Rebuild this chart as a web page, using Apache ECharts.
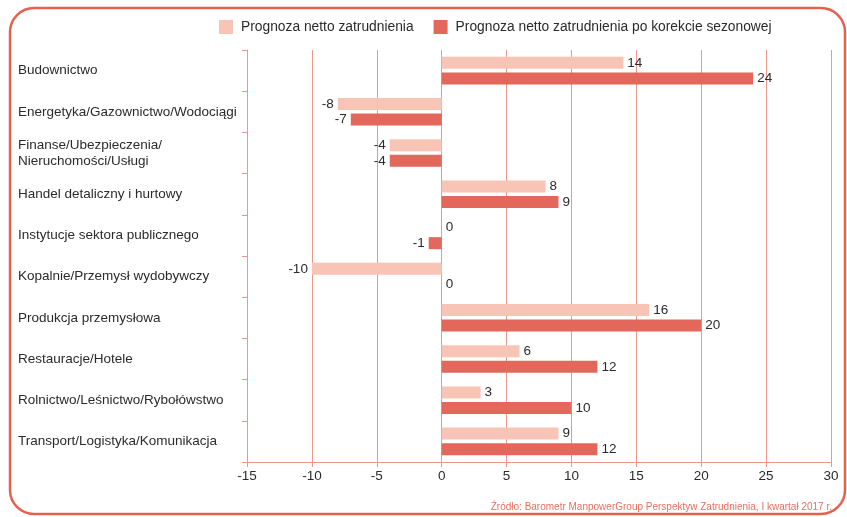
<!DOCTYPE html>
<html>
<head>
<meta charset="utf-8">
<script src="https://cdn.jsdelivr.net/npm/echarts@6/dist/echarts.min.js"></script>
<style>
html,body{margin:0;padding:0;background:#fff;}
#c{width:847px;height:517px;}
</style>
</head>
<body>
<div id="c"></div>
<script>
const categories = [
  'Budownictwo',
  'Energetyka/Gazownictwo/Wodociągi',
  'Finanse/Ubezpieczenia/\nNieruchomości/Usługi',
  'Handel detaliczny i hurtowy',
  'Instytucje sektora publicznego',
  'Kopalnie/Przemysł wydobywczy',
  'Produkcja przemysłowa',
  'Restauracje/Hotele',
  'Rolnictwo/Leśnictwo/Rybołówstwo',
  'Transport/Logistyka/Komunikacja'
];
const seriesNames = ['Prognoza netto zatrudnienia', 'Prognoza netto zatrudnienia po korekcie sezonowej'];
const netForecast = [14, -8, -4, 8, 0, -10, 16, 6, 3, 9];
const seasonalAdjusted = [24, -7, -4, 9, -1, 0, 20, 12, 10, 12];
const xTicks = { min: -15, max: 30, interval: 5 };
const sourceText = 'Źródło: Barometr ManpowerGroup Perspektyw Zatrudnienia, I kwartał 2017 r.';

const FONT = '"Liberation Sans", Arial, Helvetica, sans-serif';
const LIGHT = '#f7c4b5';
const DARK = '#e3675a';
const GRID = '#ec978a';
const TEXT = '#2b2b2b';

function toData(arr) {
  return arr.map(v => ({
    value: v,
    label: { position: v < 0 ? 'left' : 'right' }
  }));
}

const chart = echarts.init(document.getElementById('c'), null, { renderer: 'canvas' });
chart.setOption({
  animation: false,
  backgroundColor: '#ffffff',
  textStyle: { fontFamily: FONT },
  graphic: [
    {
      type: 'rect',
      shape: { x: 10, y: 8, width: 835, height: 506, r: 24 },
      style: { fill: 'none', stroke: '#e5604f', lineWidth: 2.5 },
      silent: true, z: -1
    },
    {
      type: 'text',
      right: 15, top: 502,
      style: { text: sourceText, fill: '#e8705f', font: '10px ' + FONT, align: 'right' }
    }
  ],
  legend: {
    left: 214, top: 15,
    itemWidth: 14, itemHeight: 14, itemGap: 20,
    icon: 'rect',
    textStyle: { color: TEXT, fontSize: 13.8, fontFamily: FONT, padding: [0, 0, 0, 3] },
    data: seriesNames
  },
  grid: { left: 247, right: 16, top: 50, bottom: 55, containLabel: false },
  xAxis: {
    type: 'value',
    min: xTicks.min, max: xTicks.max, interval: xTicks.interval,
    axisLine: { show: true, lineStyle: { color: GRID, width: 1 } },
    axisTick: { show: true, length: 5, lineStyle: { color: GRID } },
    axisLabel: { color: TEXT, fontSize: 13.5, fontFamily: FONT, margin: 7 },
    splitLine: { show: true, lineStyle: { color: GRID, width: 1, type: 'solid' } }
  },
  yAxis: {
    type: 'category',
    inverse: true,
    data: categories,
    axisLine: { show: true, onZero: false, lineStyle: { color: GRID, width: 1 } },
    axisTick: { show: true, length: 5, alignWithLabel: false, lineStyle: { color: GRID } },
    axisLabel: { color: TEXT, fontSize: 13.5, fontFamily: FONT, align: 'left', margin: 229, lineHeight: 16, padding: [6, 0, 0, 0] },
    splitLine: { show: false }
  },
  series: [
    {
      name: seriesNames[0], type: 'bar',
      data: toData(netForecast),
      barWidth: 12, barGap: '30%',
      itemStyle: { color: LIGHT },
      label: { show: true, distance: 4, color: TEXT, fontSize: 13.5, fontFamily: FONT }
    },
    {
      name: seriesNames[1], type: 'bar',
      data: toData(seasonalAdjusted),
      barWidth: 12, barGap: '30%',
      itemStyle: { color: DARK },
      label: { show: true, distance: 4, color: TEXT, fontSize: 13.5, fontFamily: FONT }
    }
  ]
});
</script>
</body>
</html>
